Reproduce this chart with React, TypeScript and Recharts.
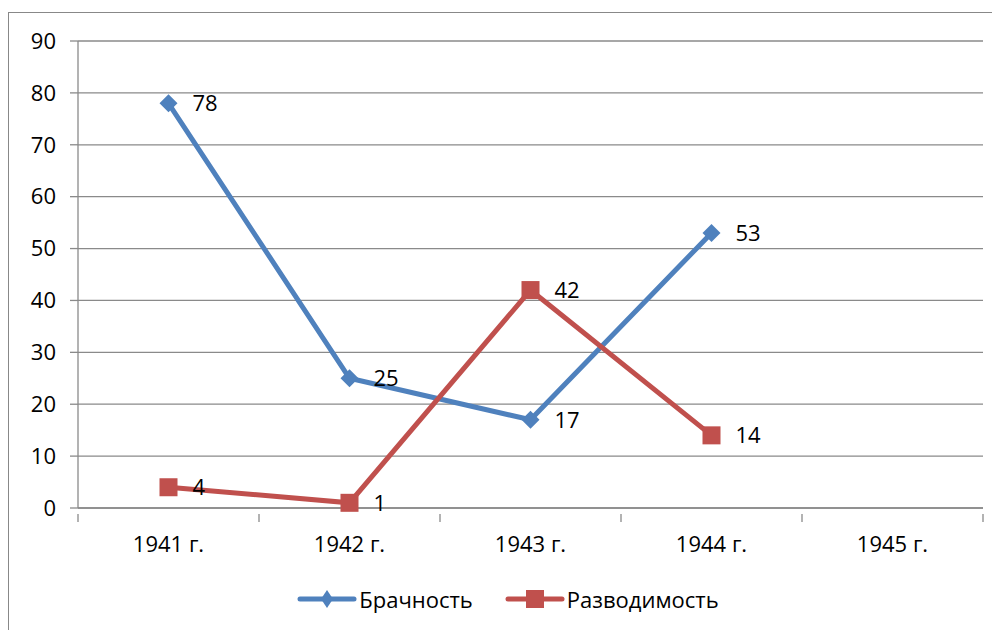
import { LineChart, Line, XAxis, YAxis, CartesianGrid, Legend, LabelList } from 'recharts'

const years = ['1941 г.', '1942 г.', '1943 г.', '1944 г.', '1945 г.']
const marriages = [78, 25, 17, 53, null]
const divorces = [4, 1, 42, 14, null]
const yTicks = [0, 10, 20, 30, 40, 50, 60, 70, 80, 90]

const BLUE = '#4F81BD'
const RED = '#C0504D'
const GRID = '#8a8a8a'
const FONT = '"Open Sans", sans-serif'

const CHART_W = 991
const CHART_H = 617
const MARGIN = { top: 28, right: 17, bottom: 0, left: 0 }
const Y_W = 69
const HALF_BAND = (CHART_W - MARGIN.left - MARGIN.right - Y_W) / years.length / 2

const data = years.map((year, i) => ({
  year,
  marriages: marriages[i],
  divorces: divorces[i],
}))

function Diamond(props: any) {
  const { cx, cy } = props
  if (cx == null || cy == null || props.value == null) return null
  const r = 9
  return <path d={`M${cx},${cy - r}L${cx + r},${cy}L${cx},${cy + r}L${cx - r},${cy}Z`} fill={BLUE} />
}

function Square(props: any) {
  const { cx, cy } = props
  if (cx == null || cy == null || props.value == null) return null
  return <rect x={cx - 9} y={cy - 9} width={18} height={18} fill={RED} />
}

function YearTick(props: any) {
  const { x, y, payload, index } = props
  const axisY = y - 22
  return (
    <g>
      <line x1={x - HALF_BAND} y1={axisY} x2={x - HALF_BAND} y2={axisY + 8} stroke={GRID} strokeWidth={1.3} />
      {index === years.length - 1 && (
        <line x1={x + HALF_BAND} y1={axisY} x2={x + HALF_BAND} y2={axisY + 8} stroke={GRID} strokeWidth={1.3} />
      )}
      <text x={x} y={y} dy="0.71em" textAnchor="middle" fontFamily={FONT} fontSize={22} fill="#000">
        {payload.value}
      </text>
    </g>
  )
}

function LegendBox() {
  const item = (color: string, label: string, marker: 'diamond' | 'square') => (
    <div style={{ display: 'flex', alignItems: 'center', margin: '0 16px' }}>
      <svg width={60} height={20}>
        <line x1={3} y1={10} x2={57} y2={10} stroke={color} strokeWidth={5} strokeLinecap="round" />
        {marker === 'diamond' ? (
          <path d="M30,1L36,10L30,19L24,10Z" fill={color} />
        ) : (
          <rect x={21} y={1} width={18} height={18} fill={color} />
        )}
      </svg>
      <span style={{ fontFamily: FONT, fontSize: 22, color: '#000', marginLeft: 2 }}>{label}</span>
    </div>
  )
  return (
    <div style={{ height: 62, display: 'flex', justifyContent: 'center', alignItems: 'center', paddingLeft: 24 }}>
      {item(BLUE, 'Брачность', 'diamond')}
      {item(RED, 'Разводимость', 'square')}
    </div>
  )
}

export default function App() {
  const tick = { fontFamily: FONT, fontSize: 22, fill: '#000' }
  const label = { fontFamily: FONT, fontSize: 22, fill: '#000' }
  return (
    <div
      style={{
        marginTop: 4,
        width: 992,
        height: 618,
        borderLeft: '1px solid #888',
        borderTop: '1px solid #888',
        boxSizing: 'border-box',
        overflow: 'hidden',
      }}
    >
      <LineChart width={CHART_W} height={CHART_H} data={data} margin={MARGIN}>
        <CartesianGrid vertical={false} stroke={GRID} strokeWidth={1.3} />
        <XAxis
          dataKey="year"
          scale="band"
          height={60}
          tick={<YearTick />}
          tickLine={false}
          axisLine={{ stroke: GRID, strokeWidth: 1.3 }}
          tickMargin={22}
          interval={0}
        />
        <YAxis
          width={Y_W}
          domain={[0, 90]}
          ticks={yTicks}
          tick={tick}
          tickSize={8}
          tickMargin={14}
          axisLine={{ stroke: GRID, strokeWidth: 1.3 }}
          tickLine={{ stroke: GRID, strokeWidth: 1.3 }}
        />
        <Legend verticalAlign="bottom" content={() => <LegendBox />} />
        <Line
          type="linear"
          dataKey="marriages"
          name="Брачность"
          stroke={BLUE}
          strokeWidth={5}
          dot={<Diamond />}
          activeDot={false}
          isAnimationActive={false}
        >
          <LabelList dataKey="marriages" position="right" offset={24} style={label} />
        </Line>
        <Line
          type="linear"
          dataKey="divorces"
          name="Разводимость"
          stroke={RED}
          strokeWidth={5}
          dot={<Square />}
          activeDot={false}
          isAnimationActive={false}
        >
          <LabelList dataKey="divorces" position="right" offset={24} style={label} />
        </Line>
      </LineChart>
    </div>
  )
}
